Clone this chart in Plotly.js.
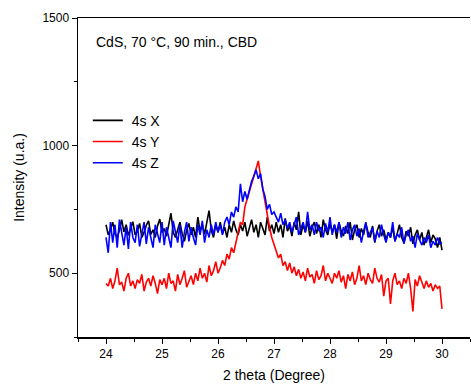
<!DOCTYPE html>
<html>
<head>
<meta charset="utf-8">
<script src="https://cdn.plot.ly/plotly-3.0.1.min.js"></script>
<style>html,body{margin:0;padding:0;background:#fff;}#chart{width:471px;height:384px;}</style>
</head>
<body>
<div id="chart"></div>
<script>
// 2-theta sampling grid (degrees)
const thetaStart = 24.0;
const thetaStep = 0.04;

// Series values (intensity, u.a.)
const seriesX = [
  690, 650, 672, 700, 655, 640, 668, 710, 662, 690, 648, 676, 702, 650, 665, 695, 640, 660, 688, 705, 652, 670, 640, 685, 712, 660,
  675, 645, 690, 735, 660, 640, 670, 700, 655, 625, 668, 695, 650, 680, 640, 720, 665, 690, 652, 700, 745, 668, 640, 690, 660,
  700, 655, 680, 640, 690, 660, 705, 670, 650, 690, 665, 700, 645, 680, 710, 660, 690, 640, 700, 675, 650, 720, 665, 690, 655,
  700, 660, 690, 640, 715, 665, 685, 645, 700, 670, 740, 650, 690, 660, 705, 645, 680, 700, 655, 690, 640, 710, 670, 650, 695,
  660, 690, 635, 700, 665, 645, 685, 655, 700, 630, 670, 690, 640, 675, 650, 695, 660, 640, 685, 620, 665, 690, 645, 670, 630,
  660, 640, 680, 625, 655, 690, 640, 620, 665, 645, 680, 615, 650, 670, 630, 660, 610, 645, 670, 620, 650, 635, 600, 640, 590
];
const seriesY = [
  460, 450, 480, 440, 470, 520, 455, 465, 430, 480, 500, 450, 470, 440, 475, 460, 495, 430, 465, 480, 450, 490, 460, 420, 475, 455,
  480, 440, 500, 460, 470, 430, 495, 455, 480, 510, 445, 470, 490, 455, 500, 470, 520, 480, 500, 465, 530, 490, 510, 545, 500,
  520, 550, 530, 575, 555, 600, 580, 620, 650, 700, 690, 760, 790, 820, 850, 870, 900, 940, 880, 830, 780, 720, 680, 640, 610,
  590, 560, 575, 530, 545, 510, 540, 500, 525, 490, 515, 480, 505, 470, 520, 485, 495, 460, 510, 475, 490, 530, 470, 500, 480,
  460, 500, 480, 510, 465, 490, 440, 495, 470, 505, 455, 480, 530, 470, 490, 455, 500, 475, 460, 520, 480, 465, 495, 410, 470,
  480, 380, 470, 500, 455, 470, 440, 480, 460, 500, 440, 350, 475, 450, 490, 460, 440, 470, 445, 460, 430, 455, 440, 450, 360
];
const seriesZ = [
  640, 580, 700, 620, 690, 600, 710, 650, 610, 680, 595, 700, 640, 620, 690, 605, 660, 700, 615, 680, 640, 600, 690, 650, 620, 700,
  610, 680, 640, 600, 705, 655, 620, 690, 600, 660, 700, 625, 680, 640, 610, 690, 650, 705, 620, 670, 640, 690, 650, 700, 660,
  690, 650, 700, 720, 690, 740, 720, 760, 740, 850, 780, 820, 790, 830, 860, 880, 905, 870, 890, 830, 800, 750, 770, 730, 740,
  720, 700, 735, 690, 710, 675, 700, 660, 690, 720, 650, 680, 700, 660, 740, 670, 690, 650, 700, 665, 680, 640, 695, 660, 720,
  650, 690, 660, 700, 640, 680, 655, 700, 630, 670, 690, 645, 675, 620, 665, 700, 640, 660, 680, 625, 665, 640, 690, 650, 620,
  660, 640, 700, 625, 655, 640, 680, 615, 650, 670, 625, 645, 600, 655, 630, 610, 640, 620, 650, 600, 625, 610, 640, 615, 620
];
const seriesNames = ["\u00a04s X", "\u00a04s Y", "\u00a04s Z"];
const seriesColors = ["#000000", "#ff0000", "#0000ff"];
const xTickVals = [24, 25, 26, 27, 28, 29, 30];
const yTickVals = [500, 1000, 1500];

const theta = seriesX.map((_, i) => +(thetaStart + i * thetaStep).toFixed(2));
const allSeries = [seriesX, seriesY, seriesZ];

const traces = allSeries.map((vals, k) => ({
  x: theta, y: vals, type: 'scatter', mode: 'lines', name: seriesNames[k],
  line: {color: seriesColors[k], width: 1.6}
}));

const font = "Liberation Sans, Arial, sans-serif";
const layout = {
  width: 471, height: 384,
  margin: {l: 78, r: 1, t: 18, b: 47},
  paper_bgcolor: '#fff', plot_bgcolor: '#fff',
  font: {family: font, color: '#000'},
  showlegend: true,
  legend: {x: 0.025, y: 0.728, xanchor: 'left', yanchor: 'top', bgcolor: 'rgba(0,0,0,0)',
           font: {size: 14, family: font}, tracegroupgap: 0, itemwidth: 30},
  xaxis: {
    range: [23.5, 30.5], tickvals: xTickVals, ticktext: xTickVals.map(String),
    showgrid: false, zeroline: false, showline: true, linecolor: '#000', linewidth: 1.5, mirror: true,
    ticks: 'outside', ticklen: 5, tickwidth: 1, tickcolor: '#000',
    minor: {dtick: 0.5, tick0: 23.5, ticks: 'outside', ticklen: 3, tickcolor: '#000', showgrid: false},
    tickfont: {size: 12, family: font},
    title: {text: '2 theta (Degree)', font: {size: 14, family: font}, standoff: 10}
  },
  yaxis: {
    range: [250, 1500], tickvals: yTickVals, ticktext: yTickVals.map(String),
    showgrid: false, zeroline: false, showline: true, linecolor: '#000', linewidth: 1.5, mirror: false,
    ticks: 'outside', ticklen: 5, tickwidth: 1, tickcolor: '#000',
    minor: {dtick: 250, tick0: 250, ticks: 'outside', ticklen: 3, tickcolor: '#000', showgrid: false},
    tickfont: {size: 12, family: font},
    title: {text: 'Intensity (u.a.)', font: {size: 14, family: font}, standoff: 14}
  },
  annotations: [{
    text: 'CdS, 70 °C, 90 min., CBD', xref: 'paper', yref: 'paper', x: 0.04, y: 0.925,
    xanchor: 'left', yanchor: 'middle', showarrow: false, font: {size: 14, family: font}
  }]
};

Plotly.newPlot('chart', traces, layout, {displayModeBar: false, staticPlot: true});
</script>
</body>
</html>
